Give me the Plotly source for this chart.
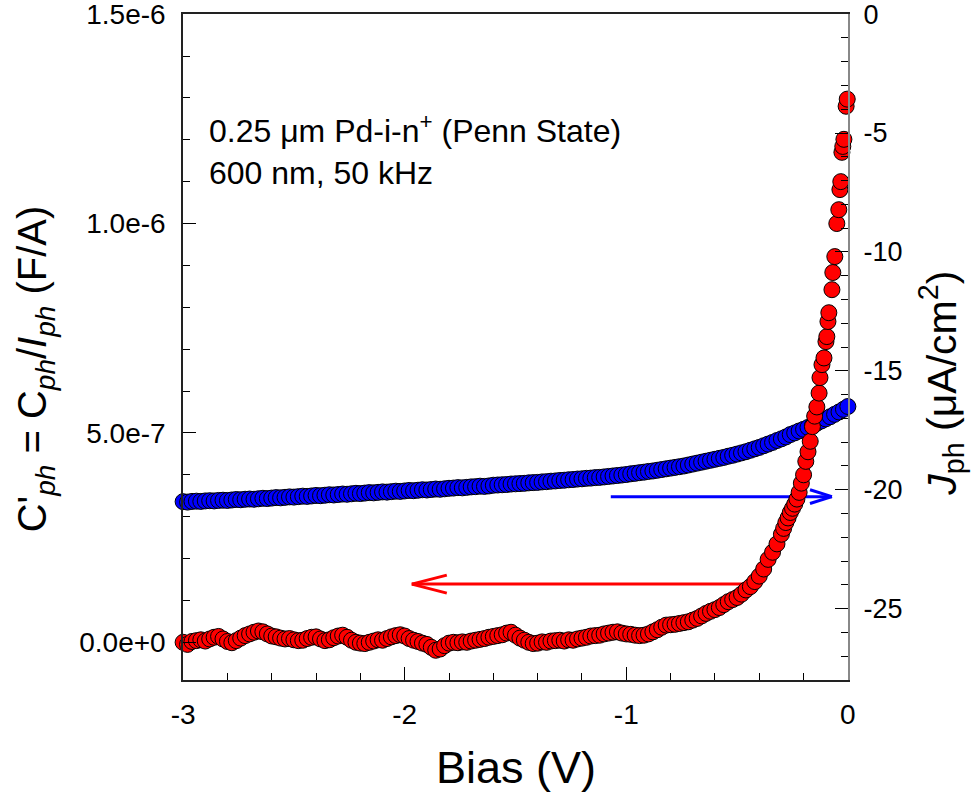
import plotly.graph_objects as go

# ---------------- data ----------------
# bias grid (V), 0.02 V step, shared by both series
bias_grid = [
    -3.00, -2.98, -2.96, -2.94, -2.92, -2.90, -2.88, -2.86, -2.84, -2.82,
    -2.80, -2.78, -2.76, -2.74, -2.72, -2.70, -2.68, -2.66, -2.64, -2.62,
    -2.60, -2.58, -2.56, -2.54, -2.52, -2.50, -2.48, -2.46, -2.44, -2.42,
    -2.40, -2.38, -2.36, -2.34, -2.32, -2.30, -2.28, -2.26, -2.24, -2.22,
    -2.20, -2.18, -2.16, -2.14, -2.12, -2.10, -2.08, -2.06, -2.04, -2.02,
    -2.00, -1.98, -1.96, -1.94, -1.92, -1.90, -1.88, -1.86, -1.84, -1.82,
    -1.80, -1.78, -1.76, -1.74, -1.72, -1.70, -1.68, -1.66, -1.64, -1.62,
    -1.60, -1.58, -1.56, -1.54, -1.52, -1.50, -1.48, -1.46, -1.44, -1.42,
    -1.40, -1.38, -1.36, -1.34, -1.32, -1.30, -1.28, -1.26, -1.24, -1.22,
    -1.20, -1.18, -1.16, -1.14, -1.12, -1.10, -1.08, -1.06, -1.04, -1.02,
    -1.00, -0.98, -0.96, -0.94, -0.92, -0.90, -0.88, -0.86, -0.84, -0.82,
    -0.80, -0.78, -0.76, -0.74, -0.72, -0.70, -0.68, -0.66, -0.64, -0.62,
    -0.60, -0.58, -0.56, -0.54, -0.52, -0.50, -0.48, -0.46, -0.44, -0.42,
    -0.40, -0.38, -0.36, -0.34, -0.32, -0.30, -0.28, -0.26, -0.24, -0.22,
    -0.20, -0.18, -0.16, -0.14, -0.12, -0.10, -0.08, -0.06, -0.04, -0.02,
    0.00,
]

# J_ph (uA/cm^2), blue, right axis
jph_blue = [
    -20.50, -20.52, -20.49, -20.48, -20.49, -20.47, -20.46, -20.47, -20.45, -20.44,
    -20.45, -20.43, -20.41, -20.42, -20.40, -20.39, -20.40, -20.38, -20.36, -20.37,
    -20.35, -20.33, -20.34, -20.32, -20.30, -20.31, -20.29, -20.27, -20.28, -20.26,
    -20.24, -20.25, -20.23, -20.21, -20.22, -20.20, -20.18, -20.19, -20.17, -20.15,
    -20.16, -20.14, -20.12, -20.13, -20.11, -20.09, -20.10, -20.08, -20.06, -20.07,
    -20.05, -20.03, -20.04, -20.02, -20.00, -20.01, -19.99, -19.97, -19.98, -19.96,
    -19.94, -19.93, -19.91, -19.92, -19.90, -19.88, -19.87, -19.85, -19.86, -19.84,
    -19.81, -19.80, -19.79, -19.78, -19.76, -19.75, -19.74, -19.73, -19.71, -19.70,
    -19.69, -19.67, -19.66, -19.64, -19.63, -19.61, -19.60, -19.58, -19.57, -19.55,
    -19.54, -19.52, -19.51, -19.49, -19.48, -19.46, -19.44, -19.42, -19.40, -19.38,
    -19.36, -19.33, -19.31, -19.28, -19.26, -19.23, -19.21, -19.18, -19.15, -19.12,
    -19.09, -19.06, -19.03, -19.00, -18.96, -18.92, -18.88, -18.84, -18.80, -18.76,
    -18.72, -18.68, -18.64, -18.59, -18.55, -18.50, -18.45, -18.40, -18.34, -18.28,
    -18.22, -18.15, -18.08, -18.01, -17.93, -17.86, -17.78, -17.68, -17.61, -17.53,
    -17.46, -17.38, -17.30, -17.20, -17.11, -17.02, -16.93, -16.83, -16.73, -16.62,
    -16.50,
]

# C'ph (units of 1e-7 F/A), red, left axis
bias_red_fine = [
    -0.29, -0.28, -0.27, -0.26, -0.25, -0.24, -0.23, -0.22, -0.21, -0.20,
    -0.19, -0.18, -0.17, -0.16, -0.15, -0.14, -0.13,
    -0.126, -0.117, -0.108, -0.099, -0.095, -0.090, -0.086, -0.072, -0.068, -0.059,
    -0.050, -0.041, -0.036, -0.032, -0.027, -0.023, -0.018, -0.008, -0.003,
]
bias_red = bias_grid[:136] + bias_red_fine

cph_red_e7 = [
    0.00, -0.05, 0.02, 0.04, 0.06, 0.03, 0.08, 0.12, 0.14, 0.08,
    0.02, -0.01, 0.04, 0.10, 0.16, 0.20, 0.24, 0.27, 0.25, 0.20,
    0.15, 0.13, 0.10, 0.08, 0.09, 0.06, 0.04, 0.05, 0.09, 0.12,
    0.13, 0.08, 0.04, 0.06, 0.11, 0.15, 0.17, 0.12, 0.05, 0.00,
    -0.02, -0.03, 0.00, 0.03, 0.06, 0.05, 0.09, 0.13, 0.16, 0.18,
    0.15, 0.09, 0.05, 0.02, -0.02, -0.05, -0.12, -0.19, -0.16, -0.08,
    -0.02, 0.00, -0.01, 0.01, 0.00, 0.03, 0.05, 0.07, 0.09, 0.12,
    0.14, 0.16, 0.18, 0.22, 0.24, 0.17, 0.10, 0.05, 0.00, -0.03,
    -0.02, 0.01, 0.00, 0.03, 0.04, 0.05, 0.03, 0.06, 0.05, 0.08,
    0.10, 0.12, 0.15, 0.16, 0.17, 0.20, 0.22, 0.24, 0.25, 0.22,
    0.20, 0.19, 0.17, 0.16, 0.17, 0.20, 0.25, 0.30, 0.36, 0.41,
    0.42, 0.43, 0.45, 0.47, 0.49, 0.53, 0.57, 0.63, 0.69, 0.74,
    0.78, 0.83, 0.90, 0.97, 1.02, 1.07, 1.15, 1.25, 1.33, 1.45,
    1.58, 1.75, 1.98, 2.15, 2.35, 2.58,
    2.72, 2.86, 2.97, 3.10, 3.20, 3.30, 3.42, 3.58, 3.80, 4.00,
    4.32, 4.55, 4.80, 5.15, 5.40, 5.62, 5.95,
    6.32, 6.63, 6.79, 7.18, 7.30, 7.66, 7.87, 8.42, 8.83, 9.21,
    10.00, 10.33, 10.81, 11.00, 11.70, 11.84, 12.01, 12.80, 12.97,
]
cph_red = [v * 1e-7 for v in cph_red_e7]

left_tickvals = [0, 5e-7, 1e-6, 1.5e-6]
left_ticktext = ["0.0e+0", "5.0e-7", "1.0e-6", "1.5e-6"]
right_tickvals = [0, -5, -10, -15, -20, -25]
right_ticktext = ["0", "-5", "-10", "-15", "-20", "-25"]
bottom_tickvals = [-3, -2, -1, 0]
bottom_ticktext = ["-3", "-2", "-1", "0"]

# arrow annotations (data coordinates)
red_arrow = dict(x0=-1.968, x1=-0.465, y=1.39e-7, head_dx=0.158, head_dy=0.215e-7)
blue_arrow = dict(x0=-1.07, x1=-0.072, y=-20.29, head_dx=0.099, head_dy=0.29)

FONT = "Liberation Sans, Arial, sans-serif"

fig = go.Figure()
fig.add_trace(go.Scatter(
    x=bias_grid, y=jph_blue, mode="markers", yaxis="y",
    marker=dict(size=16, color="#0000ff", line=dict(color="black", width=1)),
    showlegend=False, cliponaxis=False,
))
fig.add_trace(go.Scatter(
    x=bias_red, y=cph_red, mode="markers", yaxis="y2",
    marker=dict(size=16, color="#ff0000", line=dict(color="black", width=1)),
    showlegend=False, cliponaxis=False,
))

shapes = []
ra = red_arrow
shapes.append(dict(type="line", xref="x", yref="y2", x0=ra["x0"], x1=ra["x1"], y0=ra["y"], y1=ra["y"],
                   line=dict(color="#ff0000", width=3), layer="below"))
for s in (1, -1):
    shapes.append(dict(type="line", xref="x", yref="y2", x0=ra["x0"], x1=ra["x0"] + ra["head_dx"],
                       y0=ra["y"], y1=ra["y"] + s * ra["head_dy"],
                       line=dict(color="#ff0000", width=3), layer="below"))
ba = blue_arrow
shapes.append(dict(type="line", xref="x", yref="y", x0=ba["x0"], x1=ba["x1"], y0=ba["y"], y1=ba["y"],
                   line=dict(color="#0000ff", width=3), layer="below"))
for s in (1, -1):
    shapes.append(dict(type="line", xref="x", yref="y", x0=ba["x1"], x1=ba["x1"] - ba["head_dx"],
                       y0=ba["y"], y1=ba["y"] + s * ba["head_dy"],
                       line=dict(color="#0000ff", width=3), layer="below"))

annotations = [
    dict(text="0.25 \u03bcm Pd-i-n<sup>+</sup> (Penn State)<br>600 nm, 50 kHz",
         xref="paper", yref="paper", x=0.036, y=0.86, xanchor="left", yanchor="top",
         align="left", showarrow=False, font=dict(family=FONT, size=32, color="black")),
    dict(text="C'<sub><i>ph</i></sub> = C<sub><i>ph</i></sub>/<i>I</i><sub><i>ph</i></sub> (F/A)",
         xref="paper", yref="paper", x=-0.222, y=0.467, xanchor="center", yanchor="middle",
         textangle=-90, showarrow=False, font=dict(family=FONT, size=40, color="black")),
    dict(text="<i>J</i><sub>ph</sub> (\u03bcA/cm<sup>2</sup>)",
         xref="paper", yref="paper", x=1.14, y=0.445, xanchor="center", yanchor="middle",
         textangle=-90, showarrow=False, font=dict(family=FONT, size=41, color="black")),
    dict(text="Bias (V)",
         xref="paper", yref="paper", x=0.5, y=-0.132, xanchor="center", yanchor="middle",
         showarrow=False, font=dict(family=FONT, size=45, color="black")),
]

fig.update_layout(
    width=977, height=799,
    margin=dict(l=183, r=129, t=14, b=119, autoexpand=False),
    paper_bgcolor="white", plot_bgcolor="white",
    font=dict(family=FONT, color="black"),
    shapes=shapes, annotations=annotations,
    xaxis=dict(
        range=[-3.0005, 0.0005], tickvals=bottom_tickvals, ticktext=bottom_ticktext,
        ticks="inside", ticklen=13, tickwidth=1.2, automargin=False,
        tickcolor="black", showline=True, linecolor="#222", linewidth=1.5, mirror=True,
        showgrid=False, zeroline=False, tickfont=dict(size=28, family=FONT),
        ticklabelstandoff=9, ticklabeloverflow="allow",
        minor=dict(dtick=0.2, ticks="inside", ticklen=7, tickcolor="black", tickwidth=1, showgrid=False),
    ),
    yaxis=dict(
        range=[-28, 0.005], side="right", tickvals=right_tickvals, ticktext=right_ticktext,
        ticks="inside", ticklen=13, automargin=False,
        tickwidth=1.2, tickcolor="black", showline=True, linecolor="#888", linewidth=2,
        showgrid=False, zeroline=False, tickfont=dict(size=27, family=FONT),
        ticklabelstandoff=8, ticklabeloverflow="allow",
        minor=dict(dtick=1, ticks="inside", ticklen=7, tickcolor="black", tickwidth=1, showgrid=False),
    ),
    yaxis2=dict(
        range=[-0.09e-6, 1.5003e-6], side="left", overlaying="y", tickvals=left_tickvals,
        ticktext=left_ticktext, ticks="inside", ticklen=13, tickwidth=1.2, tickcolor="black",
        showline=True, linecolor="#222", linewidth=1.5, showgrid=False, zeroline=False,
        automargin=False,
        tickfont=dict(size=28, family=FONT), ticklabelstandoff=10, ticklabeloverflow="allow",
        minor=dict(dtick=1e-7, ticks="inside", ticklen=7, tickcolor="black", tickwidth=1, showgrid=False),
    ),
)

fig.write_html("out.html")
